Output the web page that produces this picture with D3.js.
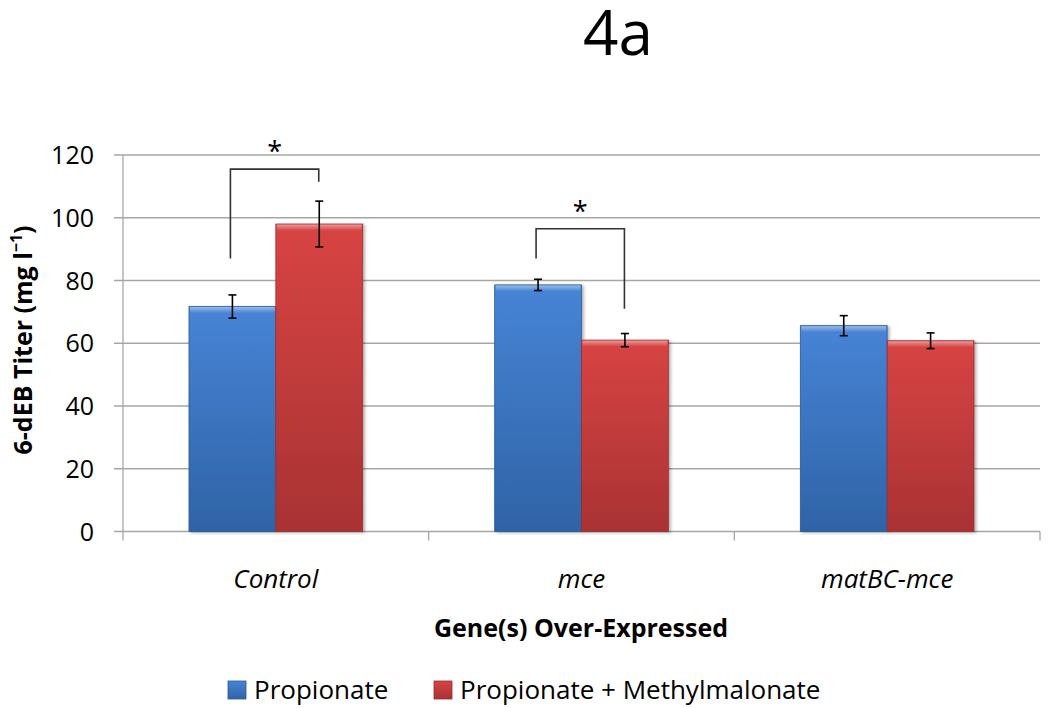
<!DOCTYPE html>
<html><head><meta charset="utf-8">
<script src="https://cdn.jsdelivr.net/npm/d3@7"></script>
<style>body{margin:0;background:#fff}svg{display:block}text{font-family:"Open Sans",sans-serif}</style>
</head><body>
<svg id="c" width="1050" height="708"></svg>
<script>
const categories = ["Control", "mce", "matBC-mce"];
const seriesNames = ["Propionate", "Propionate + Methylmalonate"];
const propionate = [71.7, 78.6, 65.6];
const propionateErr = [3.7, 1.8, 3.2];
const methylmalonate = [98.0, 61.0, 60.8];
const methylmalonateErr = [7.3, 2.1, 2.5];
const yTicks = [0, 20, 40, 60, 80, 100, 120];
// significance brackets: category, left/right end values
const brackets = [
  {cat: "Control", top: 115.5, left: 87, right: 111.5},
  {cat: "mce", top: 96.5, left: 87, right: 71}
];

const svg = d3.select("#c");
const L = 123, R = 1040, T = 155, B = 531.5;
const x = d3.scaleBand().domain(categories).range([L, R]);
const xs = d3.scaleBand().domain(seriesNames).range([0, x.bandwidth()]).paddingOuter(0.76).paddingInner(0);
const y = d3.scaleLinear().domain([0, 120]).range([B, T]);

const defs = svg.append("defs");
function grad(id, c1, c2) {
  const g = defs.append("linearGradient").attr("id", id).attr("x1", 0).attr("y1", 0).attr("x2", 0).attr("y2", 1);
  g.append("stop").attr("offset", "0%").attr("stop-color", c1);
  g.append("stop").attr("offset", "100%").attr("stop-color", c2);
}
grad("gb", "#4784d6", "#2f63a6");
grad("gr", "#d84443", "#a93233");
const hl = defs.append("linearGradient").attr("id", "hl").attr("x1", 0).attr("y1", 0).attr("x2", 0).attr("y2", 1);
hl.append("stop").attr("offset", "0%").attr("stop-color", "#fff").attr("stop-opacity", 0.45);
hl.append("stop").attr("offset", "100%").attr("stop-color", "#fff").attr("stop-opacity", 0);
const sh = defs.append("filter").attr("id", "sh").attr("x", "-10%").attr("y", "-10%").attr("width", "130%").attr("height", "130%");
sh.append("feDropShadow").attr("dx", 2).attr("dy", 1).attr("stdDeviation", 1.5).attr("flood-color", "#000").attr("flood-opacity", 0.3);

// title
svg.append("text").attr("x", 618).attr("y", 55).attr("text-anchor", "middle")
  .attr("font-size", 62).attr("fill", "#000").text("4a");

// gridlines
svg.append("g").selectAll("line").data(yTicks).join("line")
  .attr("x1", L - 9).attr("x2", R).attr("y1", d => y(d)).attr("y2", d => y(d))
  .attr("stroke", "#a6a6a6").attr("stroke-width", 1.3);
// y axis line
svg.append("line").attr("x1", L).attr("x2", L).attr("y1", T).attr("y2", B + 9).attr("stroke", "#a6a6a6").attr("stroke-width", 1.3);
// x ticks
const bounds = categories.map(c => x(c)).concat([R]);
svg.append("g").selectAll("line").data(bounds.slice(1)).join("line")
  .attr("x1", d => d).attr("x2", d => d).attr("y1", B).attr("y2", B + 9)
  .attr("stroke", "#a6a6a6").attr("stroke-width", 1.3);

// y tick labels
svg.append("g").selectAll("text").data(yTicks).join("text")
  .attr("x", 94).attr("y", d => y(d) + 9).attr("text-anchor", "end")
  .attr("font-size", 25).attr("fill", "#000").text(d => d);

// y title
svg.append("text").attr("transform", "translate(32,340) rotate(-90)").attr("text-anchor", "middle")
  .attr("font-size", 25).attr("font-weight", "bold").attr("fill", "#000")
  .html('6-dEB Titer (mg l<tspan dy="-10" font-size="16">−1</tspan><tspan dy="10">)</tspan>');

// bars
const series = [
  {name: seriesNames[0], vals: propionate, err: propionateErr, fill: "url(#gb)", edge: "#2a5a9a"},
  {name: seriesNames[1], vals: methylmalonate, err: methylmalonateErr, fill: "url(#gr)", edge: "#9a2e2e"}
];
series.forEach(s => {
  const g = svg.append("g");
  const data = categories.map((c, i) => ({c, v: s.vals[i], e: s.err[i]}));
  g.selectAll("rect.bar").data(data).join("rect").attr("class", "bar")
    .attr("x", d => x(d.c) + xs(s.name)).attr("width", xs.bandwidth())
    .attr("y", d => y(d.v)).attr("height", d => B - y(d.v))
    .attr("fill", s.fill).attr("stroke", s.edge).attr("stroke-width", 0.8).attr("filter", "url(#sh)");
  g.selectAll("rect.hl").data(data).join("rect").attr("class", "hl")
    .attr("x", d => x(d.c) + xs(s.name) + 1).attr("width", xs.bandwidth() - 2)
    .attr("y", d => y(d.v) + 0.5).attr("height", 6).attr("fill", "url(#hl)");
  // error bars
  const eb = g.selectAll("g.eb").data(data).join("g").attr("class", "eb")
    .attr("stroke", "#000").attr("stroke-width", 1.6);
  const cx = d => x(d.c) + xs(s.name) + xs.bandwidth() / 2;
  eb.append("line").attr("x1", cx).attr("x2", cx).attr("y1", d => y(d.v + d.e)).attr("y2", d => y(d.v - d.e));
  eb.append("line").attr("x1", d => cx(d) - 4).attr("x2", d => cx(d) + 4).attr("y1", d => y(d.v + d.e)).attr("y2", d => y(d.v + d.e));
  eb.append("line").attr("x1", d => cx(d) - 4).attr("x2", d => cx(d) + 4).attr("y1", d => y(d.v - d.e)).attr("y2", d => y(d.v - d.e));
});

// brackets
const bg = svg.append("g");
brackets.forEach(b => {
  const x1 = x(b.cat) + xs(seriesNames[0]) + xs.bandwidth() / 2 - 2;
  const x2 = x(b.cat) + xs(seriesNames[1]) + xs.bandwidth() / 2 - 0.5;
  bg.append("path").attr("d", `M${x1},${y(b.left)}V${y(b.top)}H${x2}V${y(b.right)}`)
    .attr("fill", "none").attr("stroke", "#333").attr("stroke-width", 1.6);
  bg.append("text").attr("x", (x1 + x2) / 2).attr("y", y(b.top) - 8).attr("text-anchor", "middle")
    .attr("font-size", 27).attr("fill", "#000").text("*");
});

// category labels
svg.append("g").selectAll("text").data(categories).join("text")
  .attr("x", d => x(d) + x.bandwidth() / 2).attr("y", 588).attr("text-anchor", "middle")
  .attr("font-size", 26).attr("font-style", "italic").attr("fill", "#000").text(d => d);

// x title
svg.append("text").attr("x", 581).attr("y", 637).attr("text-anchor", "middle")
  .attr("font-size", 25).attr("font-weight", "bold").attr("fill", "#000").text("Gene(s) Over-Expressed");

// legend
const legX = [228, 434];
const lg = svg.append("g");
series.forEach((s, i) => {
  lg.append("rect").attr("x", legX[i]).attr("y", 681).attr("width", 18).attr("height", 18)
    .attr("fill", s.fill).attr("stroke", s.edge).attr("stroke-width", 0.8);
  lg.append("text").attr("x", legX[i] + 26).attr("y", 699).attr("font-size", 26).attr("fill", "#000").text(s.name);
});
</script>
</body></html>
